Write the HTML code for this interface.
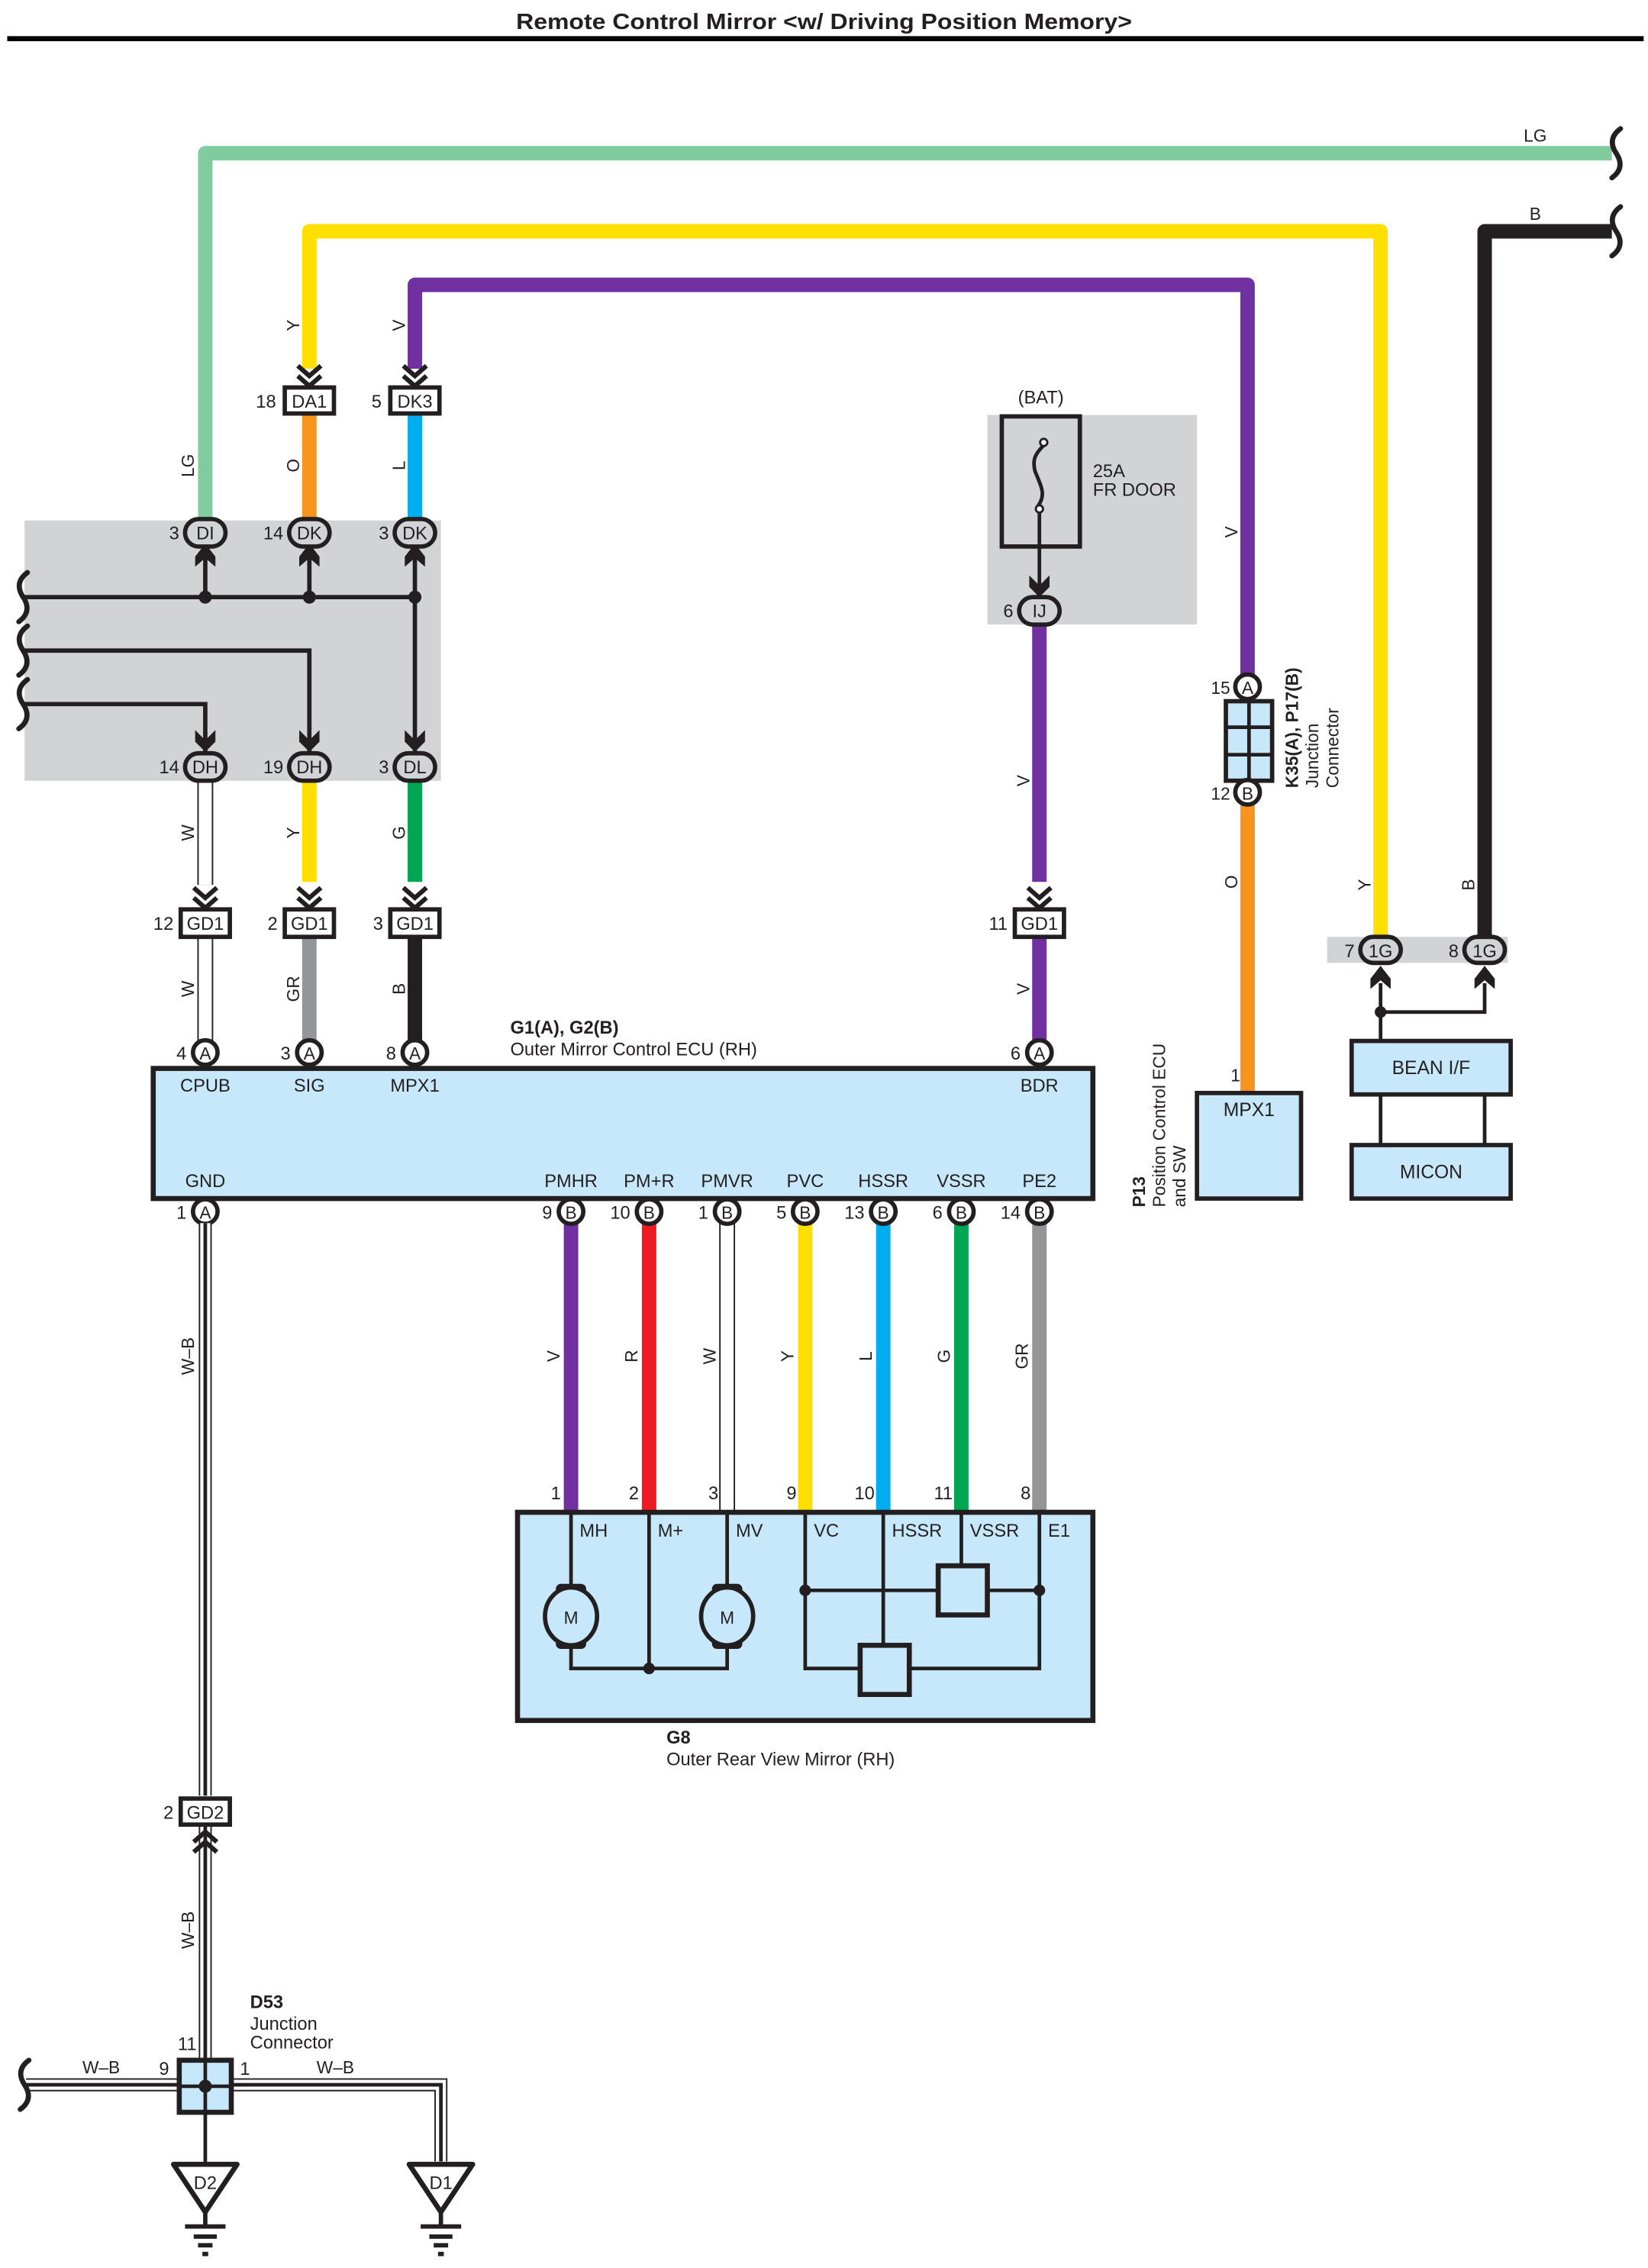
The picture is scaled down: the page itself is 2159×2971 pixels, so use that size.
<!DOCTYPE html>
<html><head><meta charset="utf-8"><style>
html,body{margin:0;padding:0;background:#fff}
svg{display:block}
text{font-family:"Liberation Sans",sans-serif;fill:#231f20}
</style></head><body>
<svg width="2159" height="2971" viewBox="0 0 1140 1568.7" preserveAspectRatio="none" xmlns="http://www.w3.org/2000/svg">
<defs>
<g id="cd" fill="none" stroke="#231f20" stroke-width="3.2"><polyline points="-8,-13 0,-6 8,-13"/><polyline points="-8,-6 0,1 8,-6"/></g>
<g id="cu" fill="#231f20"><path d="M0,-4 L7,5 L7,12 L0,6 L-7,12 L-7,5Z"/></g>
<g id="brk" fill="none" stroke="#231f20" stroke-width="3.5" stroke-linecap="round"><path d="M4,-17 C-3,-12 -3,-6 1,0 C5,6 5,12 -2,17"/></g>
</defs>

<!-- title -->
<text x="570" y="20" font-size="15" font-weight="bold" text-anchor="middle" textLength="426" lengthAdjust="spacingAndGlyphs">Remote Control Mirror &lt;w/ Driving Position Memory&gt;</text>
<rect x="5" y="25" width="1132" height="3.5" fill="#000"/>

<!-- gray areas -->
<rect x="17" y="360" width="288" height="180" fill="#d1d3d4"/>
<rect x="683" y="287" width="145" height="145" fill="#d1d3d4"/>
<rect x="918" y="648" width="125" height="18" fill="#d1d3d4"/>

<!-- upper wires -->
<g fill="none" stroke-width="10" stroke-linejoin="round">
<path d="M142,360 V106 H1115" stroke="#80cc9f"/>
<path d="M214,255 V160 H955 V650" stroke="#ffdf00"/>
<path d="M287,255 V197 H863 V470" stroke="#7030a0"/>
<path d="M1027,650 V160 H1115" stroke="#231f20"/>
<path d="M214,285 V360" stroke="#f7941d"/>
<path d="M287,285 V360" stroke="#00aeef"/>
<path d="M214,540 V610" stroke="#ffdf00"/>
<path d="M287,540 V610" stroke="#00a651"/>
<path d="M214,648 V720" stroke="#939598"/>
<path d="M287,648 V720" stroke="#231f20"/>
<path d="M719,432 V610" stroke="#7030a0"/>
<path d="M719,648 V720" stroke="#7030a0"/>
<path d="M863,556 V756" stroke="#f7941d"/>
</g>
<!-- W wires double line -->
<g fill="none">
<path d="M142,540 V612 M142,648 V720" stroke="#231f20" stroke-width="11"/>
<path d="M142,540 V612 M142,648 V720" stroke="#fff" stroke-width="9"/>
</g>
<use href="#brk" x="1117" y="106"/>
<use href="#brk" x="1117" y="160"/>

<!-- wire labels rotated -->
<g font-size="12" text-anchor="middle">
<text transform="translate(207,225) rotate(-90)">Y</text>
<text transform="translate(280,225) rotate(-90)">V</text>
<text transform="translate(134,322) rotate(-90)">LG</text>
<text transform="translate(207,322) rotate(-90)">O</text>
<text transform="translate(280,322) rotate(-90)">L</text>
<text transform="translate(134,576) rotate(-90)">W</text>
<text transform="translate(207,576) rotate(-90)">Y</text>
<text transform="translate(280,576) rotate(-90)">G</text>
<text transform="translate(134,684) rotate(-90)">W</text>
<text transform="translate(207,684) rotate(-90)">GR</text>
<text transform="translate(280,684) rotate(-90)">B</text>
<text transform="translate(856,368) rotate(-90)">V</text>
<text transform="translate(712,540) rotate(-90)">V</text>
<text transform="translate(712,684) rotate(-90)">V</text>
<text transform="translate(856,610) rotate(-90)">O</text>
<text transform="translate(948,612) rotate(-90)">Y</text>
<text transform="translate(1020,612) rotate(-90)">B</text>
<text x="1062" y="98">LG</text>
<text x="1062" y="152">B</text>
</g>

<!-- DA1 DK3 -->
<use href="#cd" x="214" y="266"/><use href="#cd" x="287" y="266"/>
<g fill="#fff" stroke="#231f20" stroke-width="3">
<rect x="197" y="268" width="34" height="18"/>
<rect x="270" y="268" width="34" height="18"/>
</g>
<g font-size="12.5" text-anchor="middle"><text x="214" y="282">DA1</text><text x="287" y="282">DK3</text></g>
<g font-size="12.5" text-anchor="end"><text x="191" y="282">18</text><text x="264" y="282">5</text></g>

<!-- gray box internals -->
<g stroke="#231f20" stroke-width="3" fill="none">
<path d="M17,413 H287 V520"/>
<path d="M17,450 H214 V520"/>
<path d="M17,487 H142 V520"/>
<path d="M142,413 V384 M214,413 V384 M287,413 V384"/>
</g>
<g fill="#231f20"><circle cx="142" cy="413" r="4.5"/><circle cx="214" cy="413" r="4.5"/><circle cx="287" cy="413" r="4.5"/></g>
<use href="#cu" x="142" y="380"/><use href="#cu" x="214" y="380"/><use href="#cu" x="287" y="380"/>
<g fill="#231f20"><path d="M135,505 L142,512 L149,505 L149,513 L142,520 L135,513Z"/><path d="M207,505 L214,512 L221,505 L221,513 L214,520 L207,513Z"/><path d="M280,505 L287,512 L294,505 L294,513 L287,520 L280,513Z"/></g>
<g stroke="#231f20" stroke-width="3" fill="#d1d3d4">
<rect x="128" y="359" width="28" height="19" rx="9.5"/>
<rect x="200" y="359" width="28" height="19" rx="9.5"/>
<rect x="273" y="359" width="28" height="19" rx="9.5"/>
<rect x="128" y="521" width="28" height="19" rx="9.5"/>
<rect x="200" y="521" width="28" height="19" rx="9.5"/>
<rect x="273" y="521" width="28" height="19" rx="9.5"/>
<rect x="705" y="413" width="28" height="19" rx="9.5"/>
<rect x="941" y="648" width="28" height="18" rx="9"/>
<rect x="1013" y="648" width="28" height="18" rx="9"/>
</g>
<g font-size="12.5" text-anchor="middle">
<text x="142" y="373">DI</text><text x="214" y="373">DK</text><text x="287" y="373">DK</text>
<text x="142" y="535">DH</text><text x="214" y="535">DH</text><text x="287" y="535">DL</text>
<text x="719" y="427">IJ</text><text x="955" y="662">1G</text><text x="1027" y="662">1G</text>
</g>
<g font-size="12.5" text-anchor="end">
<text x="124" y="373">3</text><text x="196" y="373">14</text><text x="269" y="373">3</text>
<text x="124" y="535">14</text><text x="196" y="535">19</text><text x="269" y="535">3</text>
<text x="701" y="427">6</text><text x="937" y="662">7</text><text x="1009" y="662">8</text>
</g>
<g font-size="12" text-anchor="middle"><use href="#brk" x="15" y="413"/><use href="#brk" x="15" y="450"/><use href="#brk" x="15" y="487"/></g>

<!-- GD1 row -->
<use href="#cd" x="142" y="627"/><use href="#cd" x="214" y="627"/><use href="#cd" x="287" y="627"/><use href="#cd" x="719" y="627"/>
<g fill="#fff" stroke="#231f20" stroke-width="3">
<rect x="125" y="629" width="34" height="19"/>
<rect x="197" y="629" width="34" height="19"/>
<rect x="270" y="629" width="34" height="19"/>
<rect x="702" y="629" width="34" height="19"/>
</g>
<g font-size="12.5" text-anchor="middle"><text x="142" y="643">GD1</text><text x="214" y="643">GD1</text><text x="287" y="643">GD1</text><text x="719" y="643">GD1</text></g>
<g font-size="12.5" text-anchor="end"><text x="120" y="643">12</text><text x="192" y="643">2</text><text x="265" y="643">3</text><text x="697" y="643">11</text></g>

<!-- BAT fuse -->
<text x="720" y="279" font-size="12.5" text-anchor="middle">(BAT)</text>
<rect x="693" y="288" width="54" height="90" fill="none" stroke="#231f20" stroke-width="3"/>
<path d="M722,308 C716,314 714,318 716,326 C720,336 724,342 718,350" fill="none" stroke="#231f20" stroke-width="2.5"/>
<circle cx="722" cy="306" r="2.5" fill="#fff" stroke="#231f20" stroke-width="1.5"/>
<circle cx="719" cy="352" r="2.5" fill="#fff" stroke="#231f20" stroke-width="1.5"/>
<path d="M719,355 V410" stroke="#231f20" stroke-width="2.5"/>
<path d="M712,398 L719,405 L726,398 L726,406 L719,413 L712,406Z" fill="#231f20"/>
<text x="756" y="330" font-size="12.5">25A</text>
<text x="756" y="343" font-size="12.5">FR DOOR</text>

<!-- K35 junction -->
<rect x="848" y="485" width="32" height="55" fill="#c7e8fa" stroke="#231f20" stroke-width="3"/>
<path d="M864,485 V540 M848,503 H880 M848,522 H880" stroke="#231f20" stroke-width="2.5"/>
<g fill="#fff" stroke="#231f20" stroke-width="3"><circle cx="863" cy="475" r="8.5"/><circle cx="863" cy="548" r="8.5"/></g>
<g font-size="12" text-anchor="middle"><text x="863" y="480">A</text><text x="863" y="553">B</text></g>
<g font-size="12" text-anchor="end"><text x="851" y="480">15</text><text x="851" y="553">12</text></g>
<g font-size="12"><text transform="translate(898,545) rotate(-90)" font-weight="bold">K35(A), P17(B)</text>
<text transform="translate(912,545) rotate(-90)">Junction</text>
<text transform="translate(926,545) rotate(-90)">Connector</text></g>

<!-- 1G lower -->
<g stroke="#231f20" stroke-width="2.5" fill="none"><path d="M955,680 V720 M1027,680 V700 H955"/><path d="M955,757 V792 M1027,757 V792"/></g>
<circle cx="955" cy="700" r="4" fill="#231f20"/>
<use href="#cu" x="955" y="672"/><use href="#cu" x="1027" y="672"/>
<g fill="#c7e8fa" stroke="#231f20" stroke-width="3">
<rect x="935" y="720" width="110" height="37"/>
<rect x="935" y="792" width="110" height="37"/>
<rect x="828" y="756" width="72" height="73"/>
</g>
<g font-size="13" text-anchor="middle"><text x="990" y="743">BEAN I/F</text><text x="990" y="815">MICON</text><text x="864" y="772">MPX1</text></g>
<text x="858" y="748" font-size="12" text-anchor="end">1</text>
<g font-size="12"><text transform="translate(792,835) rotate(-90)" font-weight="bold">P13</text>
<text transform="translate(806,835) rotate(-90)">Position Control ECU</text>
<text transform="translate(820,835) rotate(-90)">and SW</text></g>

<!-- ECU -->
<text x="353" y="715" font-size="12.5" font-weight="bold">G1(A), G2(B)</text>
<text x="353" y="730" font-size="12.5">Outer Mirror Control ECU (RH)</text>
<rect x="106" y="739" width="650" height="90" fill="#c7e8fa" stroke="#231f20" stroke-width="3.5"/>
<g fill="#fff" stroke="#231f20" stroke-width="3">
<circle cx="142" cy="728" r="8.5"/><circle cx="214" cy="728" r="8.5"/><circle cx="287" cy="728" r="8.5"/><circle cx="719" cy="728" r="8.5"/>
</g>
<g font-size="12" text-anchor="middle"><text x="142" y="733">A</text><text x="214" y="733">A</text><text x="287" y="733">A</text><text x="719" y="733">A</text></g>
<g font-size="12.5" text-anchor="end"><text x="129" y="733">4</text><text x="201" y="733">3</text><text x="274" y="733">8</text><text x="706" y="733">6</text></g>
<g font-size="12.5" text-anchor="middle">
<text x="142" y="755">CPUB</text><text x="214" y="755">SIG</text><text x="287" y="755">MPX1</text><text x="719" y="755">BDR</text>
<text x="142" y="821">GND</text><text x="395" y="821">PMHR</text><text x="449" y="821">PM+R</text><text x="503" y="821">PMVR</text><text x="557" y="821">PVC</text><text x="611" y="821">HSSR</text><text x="665" y="821">VSSR</text><text x="719" y="821">PE2</text>
</g>

<!-- lower wires -->
<g fill="none" stroke-width="10">
<path d="M395,846 V1045" stroke="#7030a0"/>
<path d="M449,846 V1045" stroke="#ed1c24"/>
<path d="M557,846 V1045" stroke="#ffdf00"/>
<path d="M611,846 V1045" stroke="#00aeef"/>
<path d="M665,846 V1045" stroke="#00a651"/>
<path d="M719,846 V1045" stroke="#939598"/>
<path d="M503,846 V1045" stroke="#231f20" stroke-width="11"/>
<path d="M503,846 V1045" stroke="#fff" stroke-width="9"/>
</g>
<g fill="#fff" stroke="#231f20" stroke-width="3">
<circle cx="142" cy="838" r="8.5"/><circle cx="395" cy="838" r="8.5"/><circle cx="449" cy="838" r="8.5"/><circle cx="503" cy="838" r="8.5"/><circle cx="557" cy="838" r="8.5"/><circle cx="611" cy="838" r="8.5"/><circle cx="665" cy="838" r="8.5"/><circle cx="719" cy="838" r="8.5"/>
</g>
<g font-size="12" text-anchor="middle"><text x="142" y="843">A</text><text x="395" y="843">B</text><text x="449" y="843">B</text><text x="503" y="843">B</text><text x="557" y="843">B</text><text x="611" y="843">B</text><text x="665" y="843">B</text><text x="719" y="843">B</text></g>
<g font-size="12.5" text-anchor="end"><text x="129" y="843">1</text><text x="382" y="843">9</text><text x="436" y="843">10</text><text x="490" y="843">1</text><text x="544" y="843">5</text><text x="598" y="843">13</text><text x="652" y="843">6</text><text x="706" y="843">14</text></g>
<g font-size="12" text-anchor="middle">
<text transform="translate(387,938) rotate(-90)">V</text><text transform="translate(441,938) rotate(-90)">R</text><text transform="translate(495,938) rotate(-90)">W</text><text transform="translate(549,938) rotate(-90)">Y</text><text transform="translate(603,938) rotate(-90)">L</text><text transform="translate(657,938) rotate(-90)">G</text><text transform="translate(711,938) rotate(-90)">GR</text>
</g>
<g font-size="12.5" text-anchor="end"><text x="388" y="1037">1</text><text x="442" y="1037">2</text><text x="497" y="1037">3</text><text x="551" y="1037">9</text><text x="605" y="1037">10</text><text x="659" y="1037">11</text><text x="713" y="1037">8</text></g>

<!-- G8 -->
<rect x="358" y="1046" width="398" height="144" fill="#c7e8fa" stroke="#231f20" stroke-width="3.5"/>
<g stroke="#231f20" stroke-width="2.5" fill="none">
<path d="M395,1046 V1098 M395,1137 V1154 H503 V1137 M503,1046 V1098 M449,1046 V1154"/>
<path d="M557,1046 V1154 H595 M629,1154 H719 V1046 M557,1100 H649 M683,1100 H719 M611,1046 V1138 M665,1046 V1083"/>
<rect x="649" y="1083" width="34" height="34" stroke-width="3.5"/>
<rect x="595" y="1138" width="34" height="34" stroke-width="3.5"/>
</g>
<g fill="#231f20"><circle cx="449" cy="1154" r="4"/><circle cx="557" cy="1100" r="4"/><circle cx="719" cy="1100" r="4"/></g>
<g fill="#c7e8fa" stroke="#231f20" stroke-width="3">
<rect x="386" y="1097" width="18" height="42" rx="2"/><ellipse cx="395" cy="1118" rx="18" ry="20"/>
<rect x="494" y="1097" width="18" height="42" rx="2"/><ellipse cx="503" cy="1118" rx="18" ry="20"/>
</g>
<g font-size="12.5"><text x="401" y="1063">MH</text><text x="455" y="1063">M+</text><text x="509" y="1063">MV</text><text x="563" y="1063">VC</text><text x="617" y="1063">HSSR</text><text x="671" y="1063">VSSR</text><text x="725" y="1063">E1</text></g>
<g font-size="12" text-anchor="middle"><text x="395" y="1123">M</text><text x="503" y="1123">M</text></g>
<text x="461" y="1206" font-size="12.5" font-weight="bold">G8</text>
<text x="461" y="1221" font-size="12.5">Outer Rear View Mirror (RH)</text>

<!-- ground W-B wiring -->
<g fill="none">
<path d="M142,846 V1242 M142,1262 V1425" stroke="#231f20" stroke-width="9"/>
<path d="M142,846 V1242 M142,1262 V1425" stroke="#fff" stroke-width="7"/>
<path d="M142,846 V1242 M142,1262 V1425" stroke="#231f20" stroke-width="2.5"/>
<path d="M18,1442 H124 M160,1442 H305 V1495" stroke="#231f20" stroke-width="9"/>
<path d="M18,1442 H124 M160,1442 H305 V1495" stroke="#fff" stroke-width="7"/>
<path d="M18,1442 H124 M160,1442 H305 V1495" stroke="#231f20" stroke-width="2.5"/>
</g>
<use href="#brk" x="16" y="1442"/>
<g font-size="12" text-anchor="middle"><text transform="translate(134,938) rotate(-90)">W–B</text><text transform="translate(134,1335) rotate(-90)">W–B</text>
<text x="70" y="1434">W–B</text><text x="232" y="1434">W–B</text></g>
<rect x="125" y="1244" width="34" height="18" fill="#fff" stroke="#231f20" stroke-width="3"/>
<text x="142" y="1258" font-size="12.5" text-anchor="middle">GD2</text>
<text x="120" y="1258" font-size="12.5" text-anchor="end">2</text>
<g fill="none" stroke="#231f20" stroke-width="3.2"><polyline points="134,1274 142,1267 150,1274"/><polyline points="134,1281 142,1274 150,1281"/></g>

<rect x="124" y="1425" width="36" height="36" fill="#c7e8fa" stroke="#231f20" stroke-width="3.5"/>
<path d="M142,1425 V1461 M124,1443 H160" stroke="#231f20" stroke-width="2.5"/>
<circle cx="142" cy="1443" r="4.5" fill="#231f20"/>
<path d="M142,1461 V1497" stroke="#231f20" stroke-width="2.5"/>
<text x="173" y="1389" font-size="12.5" font-weight="bold">D53</text>
<text x="173" y="1404" font-size="12.5">Junction</text>
<text x="173" y="1417" font-size="12.5">Connector</text>
<g font-size="12.5"><text x="123" y="1418">11</text><text x="110" y="1435">9</text><text x="166" y="1435">1</text></g>

<g fill="#fff" stroke="#231f20" stroke-width="3.5" stroke-linejoin="round">
<path d="M120,1497 H164 L142,1530Z"/><path d="M283,1497 H327 L305,1530Z"/>
</g>
<g font-size="12.5" text-anchor="middle"><text x="142" y="1514">D2</text><text x="305" y="1514">D1</text></g>
<g stroke="#231f20" stroke-width="3">
<path d="M142,1530 V1540 M128,1540 H156 M134,1547 H150 M137,1553 H147 M140,1559 H144"/>
<path d="M305,1530 V1540 M291,1540 H319 M297,1547 H313 M300,1553 H310 M303,1559 H307"/>
</g>
</svg>
</body></html>
